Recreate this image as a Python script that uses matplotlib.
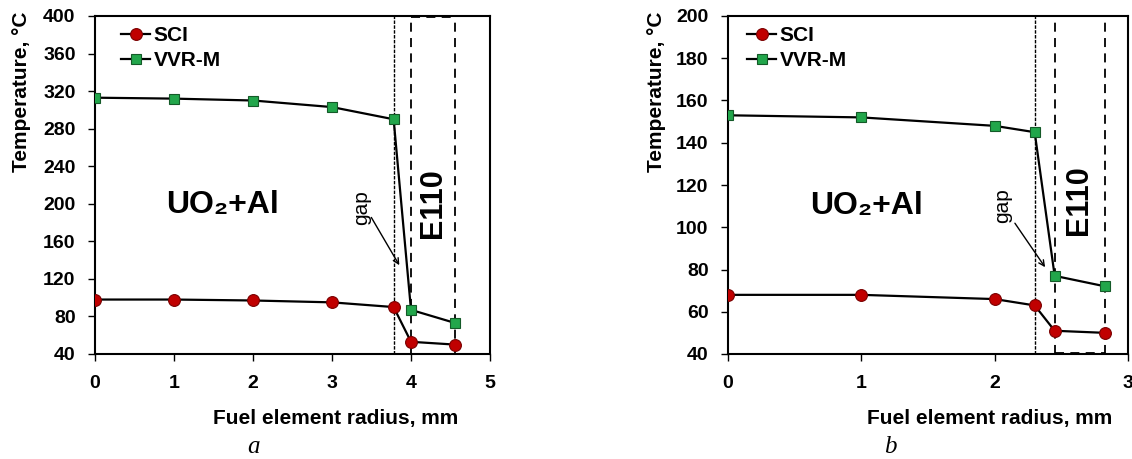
import matplotlib
matplotlib.use("Agg")
import matplotlib.pyplot as plt

plt.rcParams['font.family'] = ['Liberation Sans', 'DejaVu Sans']
plt.rcParams['font.weight'] = 'bold'

# Panel a data
xa = [0, 1, 2, 3, 3.78, 4.0, 4.56]
sci_a = [98, 98, 97, 95, 90, 53, 50]
vvr_a = [313, 312, 310, 303, 290, 87, 73]
# Panel b data
xb = [0, 1, 2, 2.3, 2.45, 2.83]
sci_b = [68, 68, 66, 63, 51, 50]
vvr_b = [153, 152, 148, 145, 77, 72]

gap_a, clad_in_a, clad_out_a = 3.78, 4.0, 4.56
gap_b, clad_in_b, clad_out_b = 2.3, 2.45, 2.83

red = '#C00000'
red_edge = '#7A0000'
green = '#22A64B'
green_edge = '#145A28'

fig = plt.figure(figsize=(11.32, 4.59), dpi=100)
axa = fig.add_axes([95/1132, 105/459, 395/1132, 338/459])
axb = fig.add_axes([728/1132, 105/459, 400/1132, 338/459])

def style(ax, xlim, ylim, yticks, xticks):
    ax.set_xlim(*xlim)
    ax.set_ylim(*ylim)
    ax.set_yticks(yticks)
    ax.set_xticks(xticks)
    for s in ax.spines.values():
        s.set_linewidth(1.5)
    ax.tick_params(axis='both', direction='out', length=5, width=1, labelsize=14)
    ax.tick_params(axis='x', pad=10)
    ax.tick_params(axis='y', pad=9)
    for lab in ax.get_xticklabels() + ax.get_yticklabels():
        lab.set_fontweight('bold')

def plot_series(ax, x, sci, vvr, anchor):
    ax.plot(x, sci, '-o', color='black', lw=1.6, markersize=8.5,
            markerfacecolor=red, markeredgecolor=red_edge, markeredgewidth=0.8, label='SCI', zorder=3)
    ax.plot(x, vvr, '-s', color='black', lw=1.6, markersize=7.5,
            markerfacecolor=green, markeredgecolor=green_edge, markeredgewidth=0.8, label='VVR-M', zorder=3)
    leg = ax.legend(loc='upper left', frameon=False, handlelength=1.4, handletextpad=0.15,
                    fontsize=15, borderaxespad=0.0, labelspacing=0.3,
                    bbox_to_anchor=anchor)
    for t in leg.get_texts():
        t.set_fontweight('bold')

def labels(ax, xl_x, yl_x):
    ax.set_ylabel('Temperature, \u00b0C', fontsize=15, fontweight='bold', va='center')
    ax.yaxis.set_label_coords(yl_x, 0.775)
    ax.set_xlabel('Fuel element radius, mm', fontsize=15, fontweight='bold', va='center')
    ax.xaxis.set_label_coords(xl_x, -0.192)

# Panel a
style(axa, (0, 5), (40, 400), range(40, 401, 40), range(0, 6))
plot_series(axa, xa, sci_a, vvr_a, (0.045, 0.995))
axa.axvline(gap_a, color='black', lw=1.0, ls=(0, (2.5, 1)), zorder=1)
axa.axvline(clad_in_a, color='black', lw=1.3, ls=(0, (5, 3.5)), zorder=1)
axa.axvline(clad_out_a, color='black', lw=1.3, ls=(0, (5, 3.5)), zorder=1)
axa.plot([clad_in_a, clad_out_a], [399, 399], color='black', lw=1.3, ls=(0, (5, 3.5)))
axa.text(1.62, 199, 'UO\u2082+Al', fontsize=23, fontweight='bold', ha='center', va='center')
axa.text(4.28, 201, 'E110', fontsize=22, fontweight='bold', rotation=90, ha='center', va='center')
axa.text(3.38, 196, 'gap', fontsize=15, fontweight='normal', rotation=90, ha='center', va='center')
axa.annotate('', xy=(3.87, 132), xytext=(3.48, 188),
             arrowprops=dict(arrowstyle='->', color='black', lw=1.0))
labels(axa, 0.61, -0.185)

# Panel b
style(axb, (0, 3), (40, 200), range(40, 201, 20), range(0, 4))
plot_series(axb, xb, sci_b, vvr_b, (0.027, 0.995))
axb.axvline(gap_b, color='black', lw=1.0, ls=(0, (2.5, 1)), zorder=1)
axb.axvline(clad_in_b, color='black', lw=1.3, ls=(0, (5, 3.5)), zorder=1)
axb.axvline(clad_out_b, color='black', lw=1.3, ls=(0, (5, 3.5)), zorder=1)
axb.plot([clad_in_b, clad_out_b], [40.6, 40.6], color='black', lw=1.3, ls=(0, (5, 3.5)))
axb.text(1.04, 110, 'UO\u2082+Al', fontsize=23, fontweight='bold', ha='center', va='center')
axb.text(2.63, 113, 'E110', fontsize=22, fontweight='bold', rotation=90, ha='center', va='center')
axb.text(2.06, 110, 'gap', fontsize=15, fontweight='normal', rotation=90, ha='center', va='center')
axb.annotate('', xy=(2.39, 80), xytext=(2.14, 103),
             arrowprops=dict(arrowstyle='->', color='black', lw=1.0))
labels(axb, 0.655, -0.178)

fig.text(253/1132, 1 - 447/459, 'a', fontsize=18, style='italic', fontweight='normal',
         family='Liberation Serif', ha='center', va='center')
fig.text(890/1132, 1 - 447/459, 'b', fontsize=18, style='italic', fontweight='normal',
         family='Liberation Serif', ha='center', va='center')

fig.savefig('out.png', dpi=100)
